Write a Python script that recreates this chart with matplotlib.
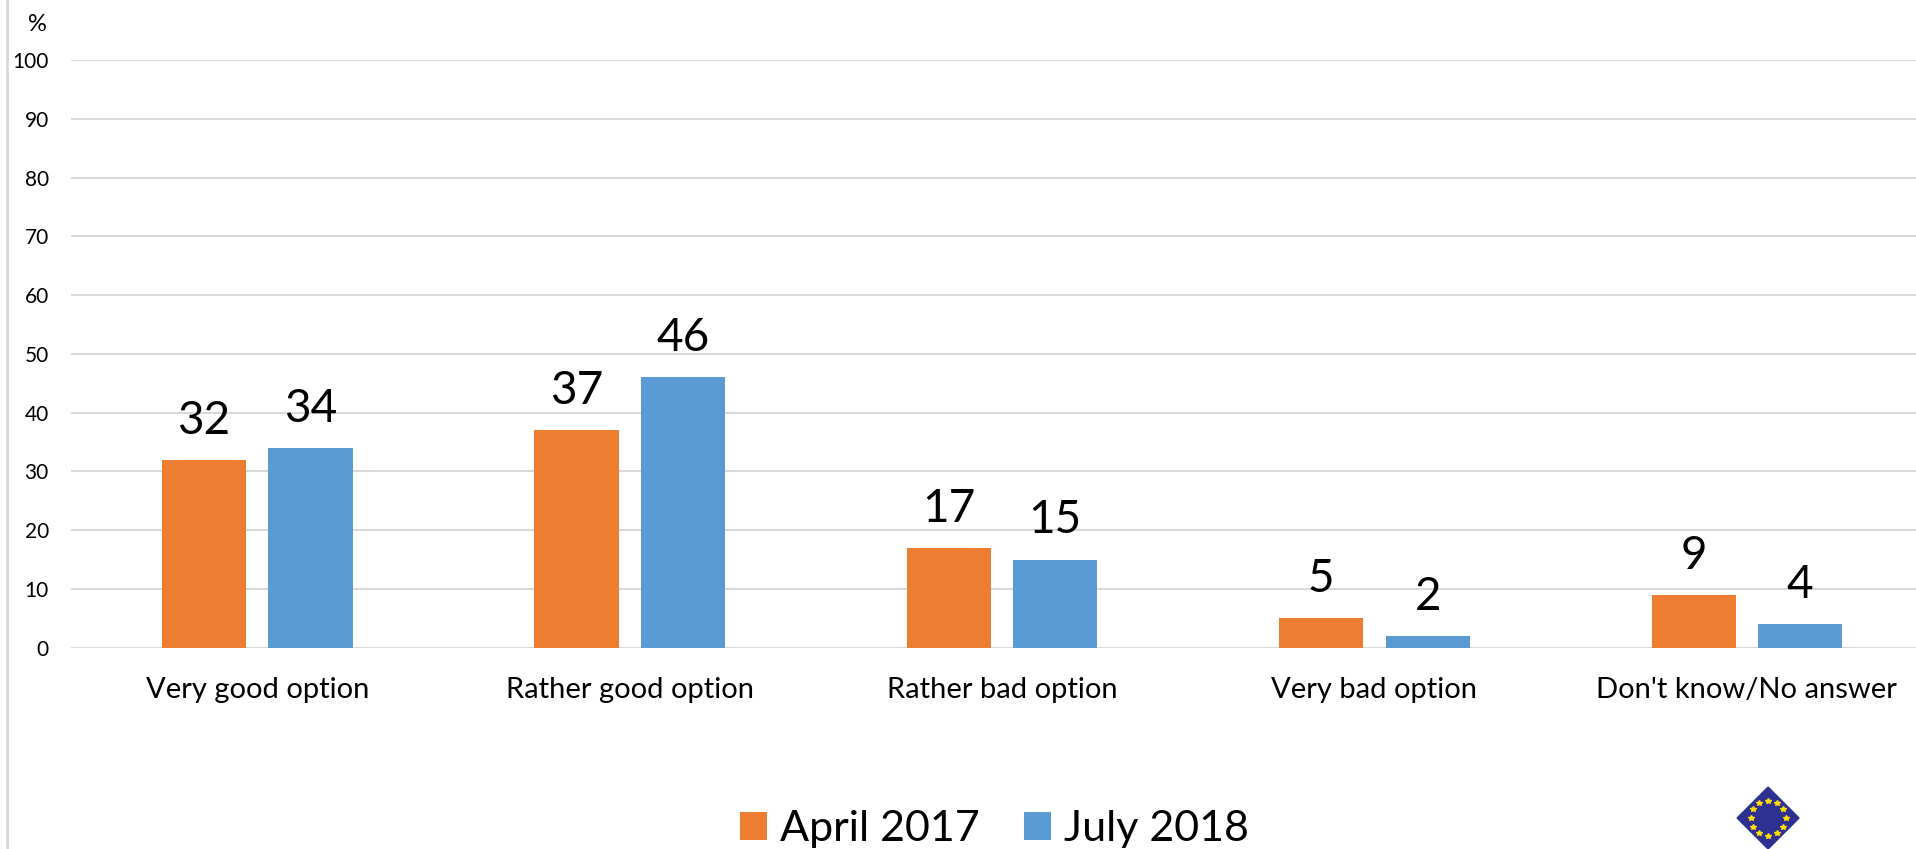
import numpy as np
import matplotlib.pyplot as plt
from matplotlib.patches import Polygon
from matplotlib.lines import Line2D

categories = ['Very good option', 'Rather good option', 'Rather bad option',
              'Very bad option', "Don't know/No answer"]
april_2017 = [32, 37, 17, 5, 9]
july_2018 = [34, 46, 15, 2, 4]
series_names = ['April 2017', 'July 2018']
y_ticks = [0, 10, 20, 30, 40, 50, 60, 70, 80, 90, 100]

plt.rcParams['font.family'] = ['Lato', 'DejaVu Sans']

fig = plt.figure(figsize=(19.16, 8.49), dpi=100)
# plot area runs a little past the right edge of the picture, as in the source
ax = fig.add_axes([0.0371, 0.2371, 0.9718, 0.6922])

x = np.arange(len(categories))
w = 0.226
off = 0.143
b1 = ax.bar(x - off, april_2017, w, color='#ED7D31', label=series_names[0], zorder=3)
b2 = ax.bar(x + off, july_2018, w, color='#5B9BD5', label=series_names[1], zorder=3)
ax.bar_label(b1, fontsize=33, padding=13)
ax.bar_label(b2, fontsize=33, padding=13)

ax.set_xlim(-0.5, len(categories) - 0.5)
ax.set_ylim(0, 100)
ax.set_yticks(y_ticks)
ax.set_xticks(x)
ax.set_xticklabels(categories, fontsize=21)
ax.tick_params(axis='x', length=0, pad=21)
ax.tick_params(axis='y', length=0, pad=16, labelsize=15)
ax.grid(axis='y', color='#d9d9d9', linewidth=1.5, zorder=0)
for s in ax.spines.values():
    s.set_visible(False)

fig.text(0.0193, 0.9717, '%', fontsize=17, ha='center', va='center')

leg = fig.legend(loc='center', bbox_to_anchor=(0.519, 0.023), ncol=2, frameon=False,
                 fontsize=31, handlelength=0.63, handleheight=0.63,
                 handletextpad=0.3, columnspacing=1.02, borderpad=0)

# chart area border on the left
fig.add_artist(Line2D([0.0037, 0.0037], [0, 1], color='#d9d9d9', linewidth=2,
                      transform=fig.transFigure))

# EU logo
cx, cy = 0.9228, 0.0365
hw, hh = 31 / 1916, 31 / 849
fig.add_artist(Polygon([[cx - hw, cy], [cx, cy + hh], [cx + hw, cy], [cx, cy - hh]],
                       closed=True, color='#2E3192', transform=fig.transFigure))
ang = np.linspace(0, 2 * np.pi, 13)[:-1]
fig.add_artist(Line2D(cx + 17.5 / 1916 * np.cos(ang), cy + 17.5 / 849 * np.sin(ang),
                      linestyle='none', marker='*', markersize=4, color='#FFDD00',
                      transform=fig.transFigure))

fig.savefig('out.png', dpi=100)
